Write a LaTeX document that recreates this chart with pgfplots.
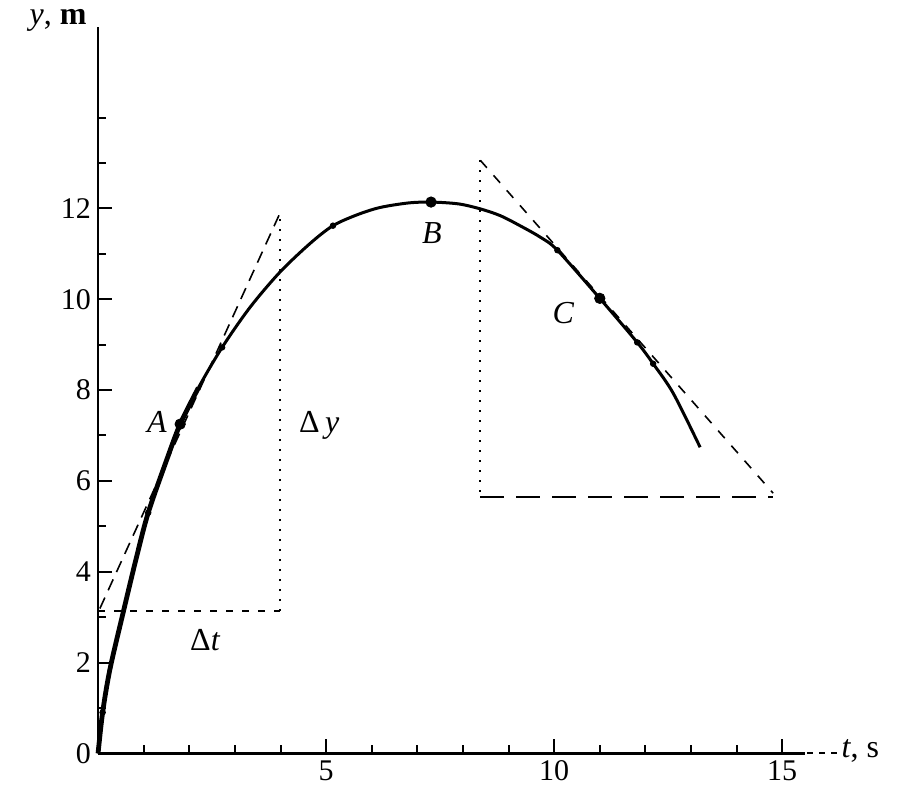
\documentclass[border=0pt]{standalone}
\usepackage{pgfplots}
\pgfplotsset{compat=1.18}
\usepackage{fontspec}
\setmainfont{Liberation Serif}
\begin{document}
\begin{tikzpicture}
\begin{axis}[
 x=22.8pt, y=22.7pt,
 xmin=0, xmax=15.5, ymin=0, ymax=16,
 axis lines=left,
 axis line style={-, line width=1.3pt},
 clip=false,
 xtick={5,10,15}, ytick={0,2,4,6,8,10,12},
 minor xtick={1,2,3,4,6,7,8,9,11,12,13,14},
 minor ytick={1,3,5,7,9,11,13,14},
 tick align=inside,
 major tick length=7pt, minor tick length=4pt,
 every tick/.style={line width=1pt, black},
 ticklabel style={font=\fontsize{15}{18}\selectfont},
 /pgf/number format/assume math mode=true,
]
% bounding box
\path (axis cs:-2.15,-0.79) rectangle (axis cs:17.56,16.59);
% curve
\addplot[line width=1.5pt, smooth] coordinates {
 (0,0) (0.1,0.9) (0.26,1.85) (0.55,3.1) (0.85,4.35) (1.1,5.3) (1.5,6.45) (1.8,7.25)
 (2.2,8.05) (2.72,8.94) (3.33,9.82) (3.99,10.6) (4.65,11.23) (5.15,11.62) (5.68,11.86)
 (6.18,12.02) (6.8,12.12) (7.3,12.14) (7.9,12.1) (8.38,11.99) (8.82,11.84) (9.25,11.62)
 (9.69,11.37) (10.07,11.08) (11.0,10.02) (11.82,9.05) (12.17,8.58) (12.61,7.93) (13.2,6.74)
};
% thicker lower part of the curve
\addplot[line width=2.4pt, smooth] coordinates {
 (0,0) (0.1,0.9) (0.26,1.85) (0.55,3.1) (0.85,4.35) (1.1,5.3) (1.5,6.45) (1.8,7.25) (2.2,8.05)
};
% small data dots
\addplot[only marks, mark=*, mark size=1.4pt] coordinates {
 (0.1,0.9) (1.1,5.3) (2.72,8.94) (5.15,11.62) (10.07,11.08) (11.82,9.05) (12.17,8.58)
};
% labelled points A B C
\addplot[only marks, mark=*, mark size=2.6pt] coordinates {
 (1.8,7.25) (7.3,12.14) (11.0,10.02)
};
% tangent at A
\addplot[line width=0.8pt, dash pattern=on 6pt off 4pt] coordinates {(0.04,3.19) (3.99,11.9)};
\addplot[line width=0.8pt, dash pattern=on 3.5pt off 4.5pt] coordinates {(0,3.13) (3.99,3.13)};
\addplot[line width=1pt, dash pattern=on 1pt off 4pt] coordinates {(3.99,3.13) (3.99,11.9)};
% tangent at C
\addplot[line width=0.8pt, dash pattern=on 5pt off 5pt] coordinates {(8.38,13.06) (14.8,5.73)};
\addplot[line width=1pt, dash pattern=on 1pt off 4pt] coordinates {(8.38,13.06) (8.38,5.64)};
\addplot[line width=0.9pt, dash pattern=on 12pt off 6pt] coordinates {(8.38,5.64) (14.8,5.64)};
% labels
\node[font=\fontsize{16}{19}\selectfont\itshape] at (axis cs:1.29,7.29) {A};
\node[font=\fontsize{16}{19}\selectfont\itshape] at (axis cs:7.32,11.45) {B};
\node[font=\fontsize{16}{19}\selectfont\itshape] at (axis cs:10.2,9.7) {C};
\node[font=\fontsize{16}{19}\selectfont] at (axis cs:4.85,7.22) {Δ\,\textit{y}};
\node[font=\fontsize{16}{19}\selectfont] at (axis cs:2.35,2.49) {Δ\textit{t}};
\node[font=\fontsize{16}{19}\selectfont, anchor=east] at (axis cs:-0.1,16.15) {\textit{y}, \textbf{m}};
\draw[line width=1pt, dash pattern=on 3pt off 3pt] (axis cs:15.55,0) -- (axis cs:16.25,0);
\node[font=\fontsize{16}{19}\selectfont, anchor=west, inner sep=1pt] at (axis cs:16.25,0.05) {\textit{t}, s};
\end{axis}
\end{tikzpicture}
\end{document}
